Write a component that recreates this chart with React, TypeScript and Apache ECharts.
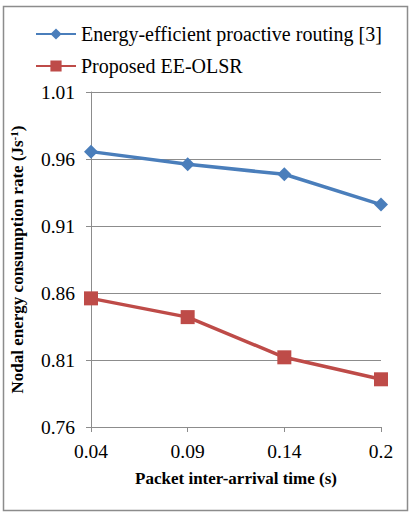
import React, { useEffect, useRef } from "react";
import * as echarts from "echarts";

const categories = ["0.04", "0.09", "0.14", "0.2"];
const seriesNames = ["Energy-efficient proactive routing [3]", "Proposed EE-OLSR"];
const baselineValues = [0.9655, 0.956, 0.9486, 0.926];
const proposedValues = [0.856, 0.842, 0.812, 0.7956];
const yMin = 0.76;
const yMax = 1.01;
const yStep = 0.05;

const FONT = "Liberation Serif";

export default function App() {
  const ref = useRef<HTMLDivElement>(null);
  useEffect(() => {
    document.body.style.margin = "0";
    const chart = echarts.init(ref.current!, null, { renderer: "svg" });
    chart.setOption({
      animation: false,
      backgroundColor: "#ffffff",
      textStyle: { fontFamily: FONT, color: "#000" },
      graphic: [
        {
          type: "rect",
          shape: { x: 3.5, y: 6.5, width: 404, height: 504 },
          style: { fill: "none", stroke: "#8c8c8c", lineWidth: 1.5 },
          silent: true,
        },
      ],
      legend: {
        orient: "vertical",
        left: 30,
        top: 19,
        itemWidth: 40,
        itemHeight: 14,
        itemGap: 12,
        textStyle: { fontFamily: FONT, fontSize: 20, color: "#000" },
        data: seriesNames,
      },
      grid: { left: 86, right: 33, top: 92, bottom: 89, containLabel: false },
      xAxis: {
        type: "category",
        data: categories,
        boundaryGap: false,
        name: "Packet inter-arrival time (s)",
        nameLocation: "middle",
        nameGap: 43,
        nameTextStyle: { fontFamily: FONT, fontSize: 17, fontWeight: "bold", color: "#000" },
        axisLine: { lineStyle: { color: "#8c8c8c", width: 1 } },
        axisTick: { show: true, alignWithLabel: true, length: 5, lineStyle: { color: "#8c8c8c" } },
        axisLabel: { fontFamily: FONT, fontSize: 19.5, color: "#000", margin: 14 },
        splitLine: { show: false },
      },
      yAxis: {
        type: "value",
        min: yMin,
        max: yMax,
        interval: yStep,
        name: "Nodal energy consumption rate (Js{sup|-1})",
        nameLocation: "middle",
        nameGap: 65,
        nameRotate: 90,
        nameTextStyle: {
          fontFamily: FONT,
          fontSize: 17,
          fontWeight: "bold",
          color: "#000",
          rich: {
            sup: { fontFamily: FONT, fontSize: 11, fontWeight: "bold", color: "#000", verticalAlign: "top", padding: [0, 0, 7, 0] },
          },
        },
        axisLine: { show: true, lineStyle: { color: "#8c8c8c", width: 1 } },
        axisTick: { show: true, length: 5, lineStyle: { color: "#8c8c8c" } },
        axisLabel: {
          fontFamily: FONT,
          fontSize: 19.5,
          color: "#000",
          margin: 16,
          formatter: (v: number) => v.toFixed(2),
        },
        splitLine: { show: true, lineStyle: { color: "#8c8c8c", width: 1 } },
      },
      series: [
        {
          name: seriesNames[0],
          type: "line",
          data: baselineValues,
          symbol: "diamond",
          symbolSize: 14,
          lineStyle: { color: "#4a7ebb", width: 3.5 },
          itemStyle: { color: "#4a7ebb" },
        },
        {
          name: seriesNames[1],
          type: "line",
          data: proposedValues,
          symbol: "rect",
          symbolSize: 14,
          lineStyle: { color: "#be4b48", width: 3.5 },
          itemStyle: { color: "#be4b48" },
        },
      ],
    });
    return () => chart.dispose();
  }, []);
  return <div ref={ref} style={{ width: 414, height: 516 }} />;
}
